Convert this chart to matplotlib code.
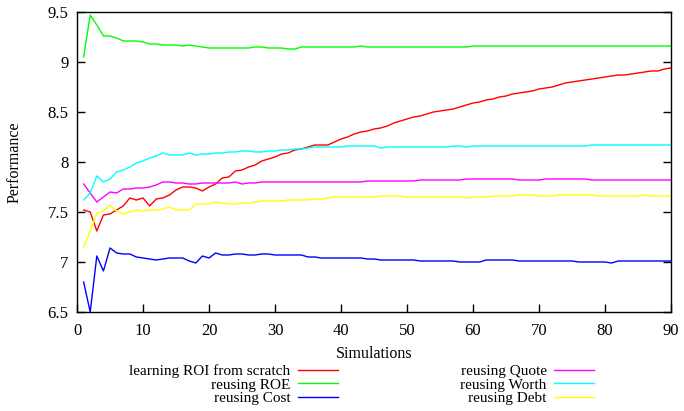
import matplotlib
matplotlib.use("Agg")
import matplotlib.pyplot as plt
from matplotlib.ticker import FormatStrFormatter

plt.rcParams['font.family'] = ['Liberation Serif', 'DejaVu Serif']
plt.rcParams['font.size'] = 11.5

sims = list(range(1, 91))

roi = [7.52, 7.50, 7.31, 7.47, 7.48, 7.52, 7.56, 7.64, 7.62, 7.64,
       7.56, 7.63, 7.64, 7.67, 7.72, 7.75, 7.75, 7.74, 7.71, 7.75,
       7.78, 7.84, 7.85, 7.91, 7.92, 7.95, 7.97, 8.01, 8.03, 8.05,
       8.08, 8.09, 8.12, 8.13, 8.15, 8.17, 8.17, 8.17, 8.20, 8.23,
       8.25, 8.28, 8.30, 8.31, 8.33, 8.34, 8.36, 8.39, 8.41, 8.43,
       8.45, 8.46, 8.48, 8.50, 8.51, 8.52, 8.53, 8.55, 8.57, 8.59,
       8.60, 8.62, 8.63, 8.65, 8.66, 8.68, 8.69, 8.70, 8.71, 8.73,
       8.74, 8.75, 8.77, 8.79, 8.80, 8.81, 8.82, 8.83, 8.84, 8.85,
       8.86, 8.87, 8.87, 8.88, 8.89, 8.90, 8.91, 8.91, 8.93, 8.94]

roe = [9.05, 9.47, 9.37, 9.26, 9.26, 9.24, 9.21, 9.21, 9.21, 9.20,
       9.18, 9.18, 9.17, 9.17, 9.17, 9.16, 9.17, 9.16, 9.15, 9.14,
       9.14, 9.14, 9.14, 9.14, 9.14, 9.14, 9.15, 9.15, 9.14, 9.14,
       9.14, 9.13, 9.13, 9.15, 9.15, 9.15, 9.15, 9.15, 9.15, 9.15,
       9.15, 9.15, 9.16, 9.15, 9.15, 9.15, 9.15, 9.15, 9.15, 9.15,
       9.15, 9.15, 9.15, 9.15, 9.15, 9.15, 9.15, 9.15, 9.15, 9.16,
       9.16, 9.16, 9.16, 9.16, 9.16, 9.16, 9.16, 9.16, 9.16, 9.16,
       9.16, 9.16, 9.16, 9.16, 9.16, 9.16, 9.16, 9.16, 9.16, 9.16,
       9.16, 9.16, 9.16, 9.16, 9.16, 9.16, 9.16, 9.16, 9.16, 9.16]

cost = [6.80, 6.50, 7.06, 6.91, 7.14, 7.09, 7.08, 7.08, 7.05, 7.04,
        7.03, 7.02, 7.03, 7.04, 7.04, 7.04, 7.01, 6.99, 7.06, 7.04,
        7.09, 7.07, 7.07, 7.08, 7.08, 7.07, 7.07, 7.08, 7.08, 7.07,
        7.07, 7.07, 7.07, 7.07, 7.05, 7.05, 7.04, 7.04, 7.04, 7.04,
        7.04, 7.04, 7.04, 7.03, 7.03, 7.02, 7.02, 7.02, 7.02, 7.02,
        7.02, 7.01, 7.01, 7.01, 7.01, 7.01, 7.01, 7.00, 7.00, 7.00,
        7.00, 7.02, 7.02, 7.02, 7.02, 7.02, 7.01, 7.01, 7.01, 7.01,
        7.01, 7.01, 7.01, 7.01, 7.01, 7.00, 7.00, 7.00, 7.00, 7.00,
        6.99, 7.01, 7.01, 7.01, 7.01, 7.01, 7.01, 7.01, 7.01, 7.01]

quote = [7.78, 7.69, 7.60, 7.65, 7.70, 7.69, 7.73, 7.73, 7.74, 7.74,
         7.75, 7.77, 7.80, 7.80, 7.79, 7.79, 7.78, 7.78, 7.79, 7.79,
         7.79, 7.79, 7.79, 7.80, 7.78, 7.79, 7.79, 7.80, 7.80, 7.80,
         7.80, 7.80, 7.80, 7.80, 7.80, 7.80, 7.80, 7.80, 7.80, 7.80,
         7.80, 7.80, 7.80, 7.81, 7.81, 7.81, 7.81, 7.81, 7.81, 7.81,
         7.81, 7.82, 7.82, 7.82, 7.82, 7.82, 7.82, 7.82, 7.83, 7.83,
         7.83, 7.83, 7.83, 7.83, 7.83, 7.83, 7.82, 7.82, 7.82, 7.82,
         7.83, 7.83, 7.83, 7.83, 7.83, 7.83, 7.83, 7.82, 7.82, 7.82,
         7.82, 7.82, 7.82, 7.82, 7.82, 7.82, 7.82, 7.82, 7.82, 7.82]

worth = [7.62, 7.69, 7.86, 7.80, 7.83, 7.90, 7.92, 7.95, 7.99, 8.01,
         8.04, 8.06, 8.09, 8.07, 8.07, 8.07, 8.09, 8.07, 8.08, 8.08,
         8.09, 8.09, 8.10, 8.10, 8.11, 8.11, 8.10, 8.10, 8.11, 8.11,
         8.12, 8.12, 8.13, 8.13, 8.14, 8.15, 8.15, 8.15, 8.15, 8.15,
         8.16, 8.16, 8.16, 8.16, 8.16, 8.14, 8.15, 8.15, 8.15, 8.15,
         8.15, 8.15, 8.15, 8.15, 8.15, 8.15, 8.16, 8.16, 8.15, 8.16,
         8.16, 8.16, 8.16, 8.16, 8.16, 8.16, 8.16, 8.16, 8.16, 8.16,
         8.16, 8.16, 8.16, 8.16, 8.16, 8.16, 8.16, 8.17, 8.17, 8.17,
         8.17, 8.17, 8.17, 8.17, 8.17, 8.17, 8.17, 8.17, 8.17, 8.17]

debt = [7.15, 7.31, 7.49, 7.51, 7.57, 7.51, 7.48, 7.50, 7.52, 7.51,
        7.52, 7.52, 7.53, 7.55, 7.52, 7.52, 7.52, 7.58, 7.58, 7.58,
        7.60, 7.59, 7.58, 7.58, 7.59, 7.59, 7.60, 7.61, 7.61, 7.61,
        7.61, 7.62, 7.62, 7.62, 7.62, 7.63, 7.63, 7.64, 7.65, 7.65,
        7.65, 7.65, 7.65, 7.65, 7.65, 7.66, 7.66, 7.66, 7.66, 7.65,
        7.65, 7.65, 7.65, 7.65, 7.65, 7.65, 7.65, 7.65, 7.64, 7.65,
        7.65, 7.65, 7.66, 7.66, 7.66, 7.66, 7.67, 7.67, 7.67, 7.66,
        7.66, 7.66, 7.67, 7.67, 7.67, 7.67, 7.67, 7.67, 7.66, 7.66,
        7.66, 7.66, 7.66, 7.66, 7.66, 7.67, 7.66, 7.66, 7.66, 7.66]

labels = ["learning ROI from scratch", "reusing ROE", "reusing Cost",
          "reusing Quote", "reusing Worth", "reusing Debt"]
colors = ["#ff0000", "#00ff00", "#0000ff", "#ff00ff", "#00ffff", "#ffff00"]
series = [roi, roe, cost, quote, worth, debt]

fig = plt.figure(figsize=(6.84, 4.11), dpi=100)
ax = fig.add_axes([0.1126, 0.2409, 0.8684, 0.7299])

for vals, lab, col in zip(series, labels, colors):
    ax.plot(sims, vals, color=col, lw=1.0, label=lab)

ax.set_xlim(0, 90)
ax.set_ylim(6.5, 9.5)
ax.set_xticks(range(0, 91, 10))
ax.set_yticks([6.5, 7, 7.5, 8, 8.5, 9, 9.5])
ax.yaxis.set_major_formatter(FormatStrFormatter('%g'))
ax.tick_params(direction='in', length=6, width=1, right=True, top=False, labelsize=12)
ax.tick_params(axis='x', pad=8)
ax.tick_params(axis='y', pad=6)
for sp in ax.spines.values():
    sp.set_linewidth(1)

ax.set_xlabel("Simulations", labelpad=5)
ax.set_ylabel("Performance", labelpad=18)

# legend sits under the axes, rows packed tight like the original
fig.legend(loc='upper left', bbox_to_anchor=(0.189, 0.114), ncol=2,
           markerfirst=False, frameon=False, fontsize=11,
           handlelength=2.6, handletextpad=0.52, columnspacing=8.0,
           labelspacing=0.0, borderpad=0, borderaxespad=0)

fig.savefig("out.png", dpi=100)
